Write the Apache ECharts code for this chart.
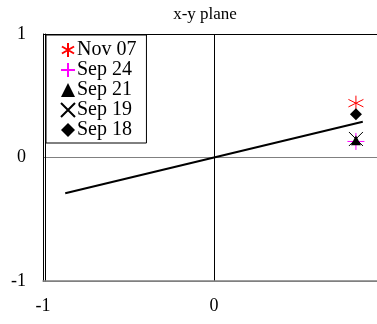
<!DOCTYPE html>
<html><head><meta charset="utf-8">
<script src="https://cdn.jsdelivr.net/npm/echarts@6/dist/echarts.min.js"></script>
<style>html,body{margin:0;padding:0;background:#fff}#c{width:377px;height:324px}</style>
</head><body><div id="c"></div>
<script>
const titleText = 'x-y plane';
const xTicks = [-1, 0, 1];
const yTicks = [-1, 0, 1];
const lineX = [-0.87, 0.87];
const lineY = [-0.29, 0.29];
const seriesNames = ['Nov 07', 'Sep 24', 'Sep 21', 'Sep 19', 'Sep 18'];
const pointX = [0.83, 0.83, 0.83, 0.83, 0.83];
const pointY = [0.44, 0.13, 0.14, 0.15, 0.35];

const FONT = '"Liberation Serif", "Times New Roman", serif';
const symbols = [
  {symbol: 'path://M0,-10L0,10M-8.66,-5L8.66,5M-8.66,5L8.66,-5', size: 15, color: '#ff0000', stroke: true},
  {symbol: 'path://M0,-10L0,10M-10,0L10,0', size: 17, color: '#ff00ff', stroke: true},
  {symbol: 'triangle', size: 10, color: '#000', stroke: false},
  {symbol: 'path://M-10,-10L10,10M-10,10L10,-10', size: 14, color: '#000', stroke: true},
  {symbol: 'diamond', size: 12, color: '#000', stroke: false}
];

const series = [{
  type: 'line', name: 'fit', data: lineX.map((x, i) => [x, lineY[i]]),
  showSymbol: false, symbol: 'none', lineStyle: {color: '#000', width: 2}, silent: true, z: 2
}];
seriesNames.forEach((n, i) => {
  const s = symbols[i];
  series.push({
    type: 'scatter', name: n, data: [[pointX[i], pointY[i]]],
    symbol: s.symbol, symbolSize: s.size, z: 3,
    itemStyle: {color: s.color, borderColor: s.color, borderWidth: s.stroke ? 1 : 0, opacity: 1}
  });
});

const chart = echarts.init(document.getElementById('c'), null, {renderer: 'canvas'});
chart.setOption({
  animation: false,
  backgroundColor: '#fff',
  title: {text: titleText, left: 200, top: 1, textAlign: 'center',
    textStyle: {fontFamily: FONT, fontSize: 17, fontWeight: 'normal', color: '#000'}},
  grid: {left: 43, top: 34, right: -8, bottom: 43, containLabel: false, outerBoundsMode: 'none'},
  legend: {
    orient: 'vertical', left: 46, top: 35, data: seriesNames,
    backgroundColor: '#fff', borderColor: '#000', borderWidth: 1,
    padding: [5, 10, 3, 14], itemGap: 0, itemWidth: 14, itemHeight: 14,
    textStyle: {fontFamily: FONT, fontSize: 20, color: '#000', lineHeight: 20, padding: [0,0,0,-3]}
  },
  xAxis: [{
    type: 'value', min: xTicks[0], max: xTicks[xTicks.length - 1], interval: 1,
    axisLine: {show: true, onZero: false, lineStyle: {color: '#808080', width: 1.5}},
    axisTick: {show: false},
    axisLabel: {fontFamily: FONT, fontSize: 18, color: '#000', margin: 16, showMaxLabel: true},
    splitLine: {show: true, lineStyle: {color: ['#000', '#000', 'rgba(0,0,0,0)'], width: 1}}
  }],
  yAxis: [{
    type: 'value', min: yTicks[0], max: yTicks[yTicks.length - 1], interval: 1,
    axisLine: {show: true, onZero: false, lineStyle: {color: '#000', width: 1}},
    axisTick: {show: false},
    axisLabel: {fontFamily: FONT, fontSize: 18, color: '#000', margin: 17},
    splitLine: {show: true, lineStyle: {color: ['#808080', '#808080', '#000'], width: 1}}
  }, {
    type: 'value', min: -1, max: 1, position: 'left', offset: -2,
    axisLine: {show: true, onZero: false, lineStyle: {color: '#000', width: 1}},
    axisTick: {show: false}, axisLabel: {show: false}, splitLine: {show: false}
  }],
  series: series
});
</script></body></html>
